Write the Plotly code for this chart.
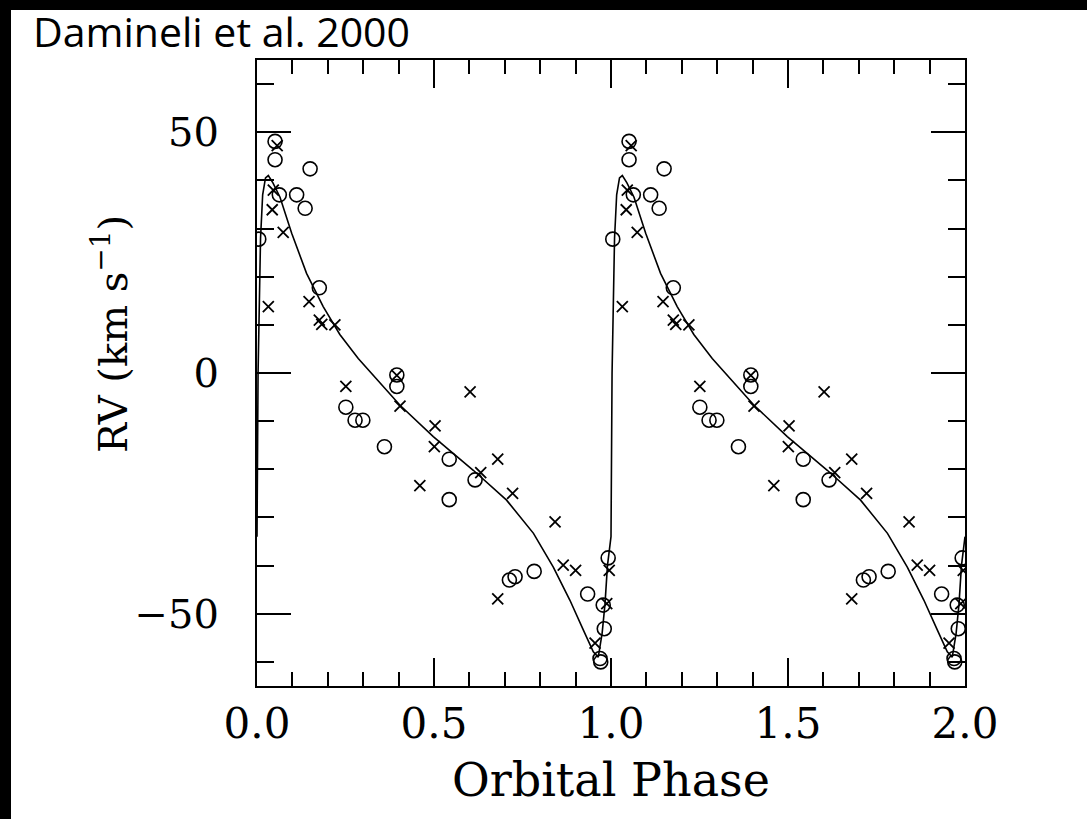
import plotly.graph_objects as go

# ---- data (one orbital cycle, phase 0..1); plotted twice (phase and phase+1)
circle_phase = [0.005, 0.051, 0.051, 0.150, 0.063, 0.112, 0.136, 0.176,
                0.395, 0.395, 0.251, 0.277, 0.299, 0.360, 0.543, 0.616, 0.543,
                0.713, 0.729, 0.783, 0.934, 0.992, 0.978, 0.981, 0.969, 0.971]
circle_rv = [27.8, 48.1, 44.3, 42.4, 37.0, 37.0, 34.2, 17.7,
             -0.4, -2.8, -7.1, -9.8, -9.8, -15.3, -17.9, -22.2, -26.3,
             -43.0, -42.3, -41.2, -45.9, -38.4, -48.2, -53.1, -59.3, -60.0]

cross_phase = [0.057, 0.046, 0.043, 0.074, 0.032, 0.147, 0.176, 0.183, 0.220,
               0.251, 0.404, 0.395, 0.602, 0.503, 0.501, 0.460, 0.632, 0.680,
               0.722, 0.842, 0.865, 0.900, 0.680, 0.955, 0.995, 0.988]
cross_rv = [47.2, 38.0, 33.9, 29.2, 13.8, 14.8, 11.0, 10.1, 10.0,
            -2.8, -6.9, -0.5, -3.9, -11.0, -15.3, -23.4, -20.7, -17.9,
            -25.0, -30.9, -39.9, -41.0, -46.9, -56.1, -41.0, -47.9]

model_phase = [0.000, 0.003, 0.010, 0.016, 0.024, 0.032, 0.045, 0.065, 0.098,
               0.140, 0.187, 0.234, 0.286, 0.329, 0.404, 0.498, 0.611, 0.705,
               0.781, 0.837, 0.884, 0.922, 0.950, 0.964, 0.975, 0.983, 0.990, 1.000]
model_rv = [-34.0, 0.0, 28.0, 37.0, 40.5, 41.0, 39.5, 36.5, 29.0,
            20.7, 13.8, 8.0, 3.0, -0.5, -6.7, -13.2, -20.2, -26.4,
            -33.3, -40.3, -47.2, -53.4, -57.9, -59.0, -54.0, -48.0, -40.0, -34.0]

x_ticks = [0.0, 0.5, 1.0, 1.5, 2.0]
y_ticks = [-50, 0, 50]

cycles = [0, 1]


def two_cycles(ph, vals):
    xs, ys = [], []
    for c in cycles:
        xs += [p + c for p in ph]
        ys += list(vals)
    return xs, ys


cx, cy = two_cycles(circle_phase, circle_rv)
xx, xy = two_cycles(cross_phase, cross_rv)
mx, my = two_cycles(model_phase, model_rv)

fig = go.Figure()
fig.add_trace(go.Scatter(x=mx, y=my, mode="lines",
                         line=dict(color="black", width=1.6), showlegend=False))
fig.add_trace(go.Scatter(x=cx, y=cy, mode="markers",
                         marker=dict(symbol="circle-open", size=14, color="black",
                                     line=dict(color="black", width=1.6)),
                         showlegend=False))
fig.add_trace(go.Scatter(x=xx, y=xy, mode="markers",
                         marker=dict(symbol="x-thin", size=11, color="black",
                                     line=dict(color="black", width=1.8)),
                         showlegend=False))

W, H = 1087, 819
L, R, T, B = 257, 965, 60, 686
pw, ph = R - L, B - T


def px_x(p):
    return (p - L) / pw


def px_y(p):
    return (B - p) / ph


serif = "DejaVu Serif"

fig.update_layout(
    width=W, height=H,
    margin=dict(l=L, r=W - R, t=T, b=H - B, pad=0),
    paper_bgcolor="white", plot_bgcolor="white",
    xaxis=dict(range=[0, 2], tickvals=x_ticks, ticktext=[f"{v:.1f}" for v in x_ticks],
               ticks="inside", ticklen=28, tickwidth=2, tickcolor="black",
               showline=True, linewidth=2, linecolor="black", mirror="allticks",
               showgrid=False, zeroline=False,
               tickfont=dict(family=serif, size=42, color="black"),
               ticklabelstandoff=0,
               minor=dict(dtick=0.1, tick0=0, ticks="inside", ticklen=14,
                          tickwidth=2, tickcolor="black", showgrid=False)),
    yaxis=dict(range=[-65, 65], tickvals=y_ticks,
               ticks="inside", ticklen=34, tickwidth=2, tickcolor="black",
               showline=True, linewidth=2, linecolor="black", mirror="allticks",
               showgrid=False, zeroline=False,
               tickfont=dict(family=serif, size=40, color="black"),
               ticklabelstandoff=28,
               minor=dict(dtick=10, tick0=0, ticks="inside", ticklen=17,
                          tickwidth=2, tickcolor="black", showgrid=False)),
    annotations=[
        dict(text="Orbital Phase", xref="paper", yref="paper",
             x=px_x(611), y=px_y(780), xanchor="center", yanchor="middle",
             showarrow=False, font=dict(family=serif, size=46, color="black")),
        dict(text="RV (km s<sup>−1</sup>)", xref="paper", yref="paper",
             x=px_x(110), y=px_y(334), xanchor="center", yanchor="middle",
             textangle=-90, showarrow=False,
             font=dict(family=serif, size=40, color="black")),
        dict(text="Damineli et al. 2000", xref="paper", yref="paper",
             x=px_x(31), y=px_y(31), xanchor="left", yanchor="middle",
             showarrow=False, font=dict(family="Open Sans", size=41, color="black")),
    ],
    shapes=[
        dict(type="rect", xref="paper", yref="paper", layer="above",
             x0=px_x(0), x1=px_x(11), y0=px_y(819), y1=px_y(0),
             fillcolor="black", line=dict(width=0)),
        dict(type="rect", xref="paper", yref="paper", layer="above",
             x0=px_x(0), x1=px_x(1087), y0=px_y(10), y1=px_y(0),
             fillcolor="black", line=dict(width=0)),
    ],
)

fig.write_html("out.html")
